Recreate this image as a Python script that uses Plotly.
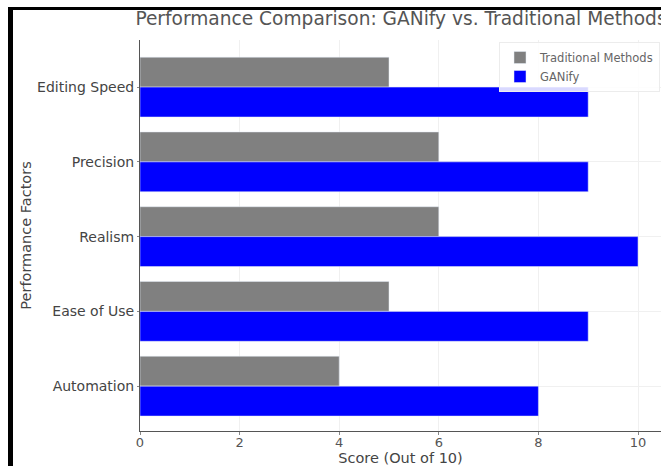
import plotly.graph_objects as go

# Performance factors, bottom to top
factors = ["Automation", "Ease of Use", "Realism", "Precision", "Editing Speed"]
traditional_scores = [4, 5, 6, 6, 5]
ganify_scores = [8, 9, 10, 9, 9]
x_ticks = [0, 2, 4, 6, 8, 10]

positions = list(range(len(factors)))

# Plot-area geometry in pixels (used to place the frame lines)
W, H = 661, 466
L, R, T, B = 140, 0, 40, 35
pw, ph = W - L - R, H - T - B


def px_to_paper_x(px):
    return (px - L) / pw


def px_to_paper_y(py):
    return (H - B - py) / ph


fig = go.Figure()
fig.add_trace(go.Bar(
    y=positions, x=traditional_scores, orientation="h",
    name="Traditional Methods", marker_color="#808080",
    width=0.4, offset=0.0,
))
fig.add_trace(go.Bar(
    y=positions, x=ganify_scores, orientation="h",
    name="GANify", marker_color="#0000FF",
    width=0.4, offset=-0.4,
))

font = "DejaVu Sans, Verdana, sans-serif"

fig.update_layout(
    width=W, height=H,
    margin=dict(l=L, r=R, t=T, b=B),
    paper_bgcolor="white", plot_bgcolor="white",
    barmode="overlay",
    font=dict(family=font, size=13, color="#3a3a3a"),
    title=dict(
        text="Performance Comparison: GANify vs. Traditional Methods",
        x=px_to_paper_x(401), xref="paper", xanchor="center",
        y=1 - 18 / H, yanchor="middle",
        font=dict(size=18.6, color="#555555"),
    ),
    showlegend=True,
    legend=dict(
        x=px_to_paper_x(660), xanchor="right",
        y=px_to_paper_y(42), yanchor="top",
        bgcolor="rgba(255,255,255,0.85)",
        bordercolor="#ececec", borderwidth=1,
        font=dict(size=11.5, color="#666666"),
        traceorder="normal",
        tracegroupgap=0,
        itemwidth=30,
    ),
    xaxis=dict(
        range=[0, (W - L) / 49.8],
        tickvals=x_ticks,
        ticktext=[str(v) for v in x_ticks],
        showgrid=True, gridcolor="#f0f0f0", gridwidth=1,
        showline=True, linecolor="#555555", linewidth=1,
        ticks="outside", ticklen=3, tickcolor="#888888",
        ticklabelstandoff=-4,
        zeroline=False,
        title=dict(text="Score (Out of 10)", font=dict(size=14.5, color="#444444"), standoff=0),
        tickfont=dict(size=13, color="#555555"),
    ),
    yaxis=dict(
        range=[-0.6, 4.63],
        tickvals=positions, ticktext=factors,
        showgrid=True, gridcolor="#f0f0f0", gridwidth=1,
        showline=True, linecolor="#555555", linewidth=1,
        ticks="outside", ticklen=2, tickcolor="#888888",
        zeroline=False,
        title=dict(text="Performance Factors", font=dict(size=14.5, color="#444444"), standoff=2),
        tickfont=dict(size=14, color="#444444"),
    ),
    shapes=[
        # thick black frame on the left and top edges
        dict(type="line", xref="paper", yref="paper",
             x0=px_to_paper_x(10.5), x1=px_to_paper_x(10.5),
             y0=px_to_paper_y(7), y1=px_to_paper_y(470),
             line=dict(color="black", width=5)),
        dict(type="line", xref="paper", yref="paper",
             x0=px_to_paper_x(8), x1=px_to_paper_x(665),
             y0=px_to_paper_y(8.5), y1=px_to_paper_y(8.5),
             line=dict(color="black", width=3)),
    ],
)

fig.write_html("out.html")
